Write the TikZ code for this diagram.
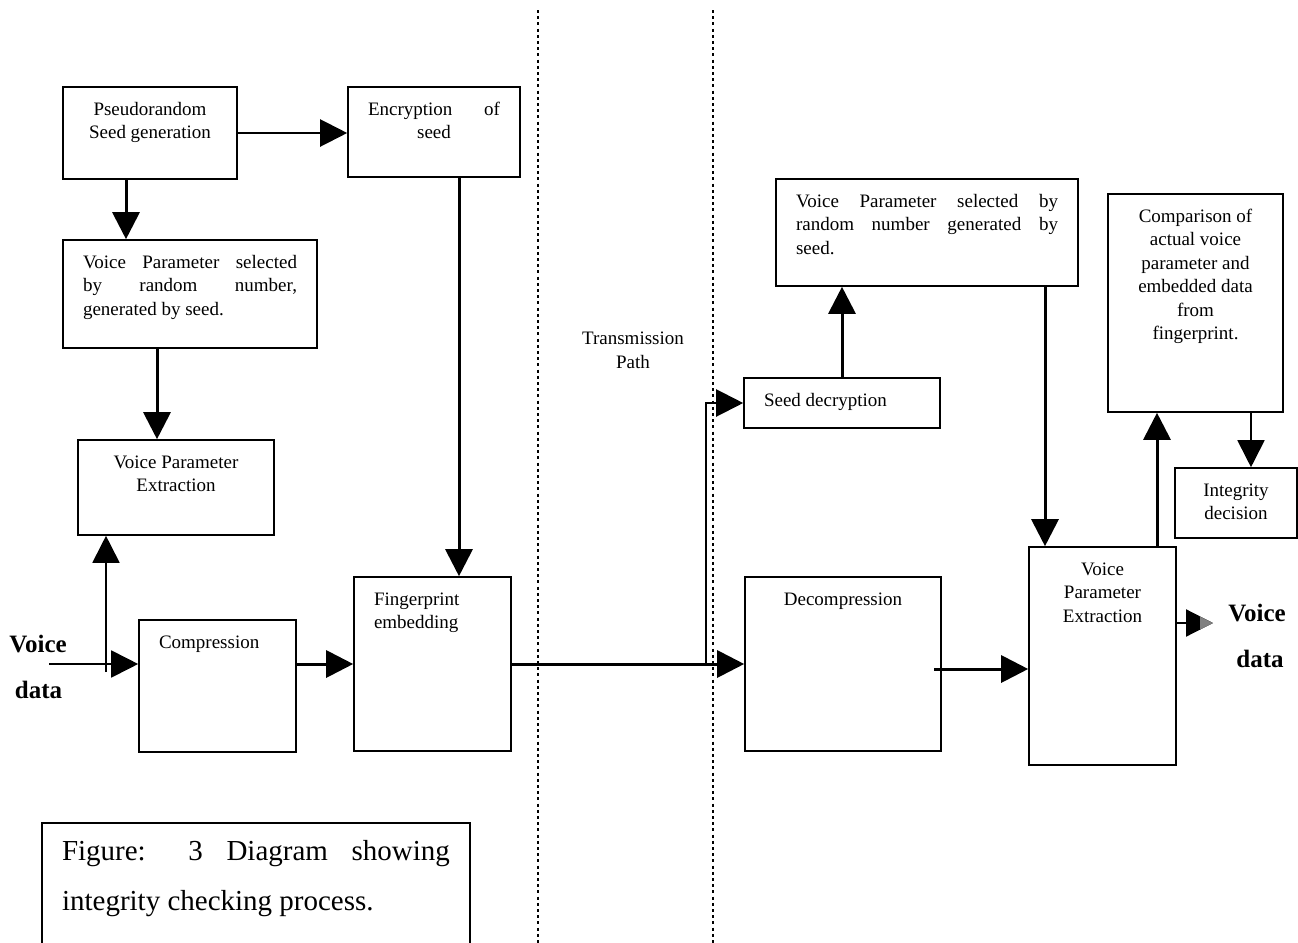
\documentclass[tikz,border=0pt]{standalone}
\usepackage{fontspec}
\setmainfont{Liberation Serif}
\usetikzlibrary{arrows.meta, positioning}

% text of a box: width, height, text (first baseline #1 below the top)
\newcommand{\blk}[4][14pt]{%
  \parbox[c][#3][t]{#2}{\vspace{\dimexpr#1-\ht\strutbox\relax}%
    \hspace*{10pt}\parbox[t]{\dimexpr#2-20pt\relax}{\strut#4}}}

\begin{document}
\begin{tikzpicture} [
	x=0.5pt, y=-0.5pt, % one unit is one pixel, y runs down
	block/.style={draw, line width=0.8pt, inner sep=0pt, font=\fontsize{9.5}{11.75}\selectfont}, % every box
	arr/.style={-{Triangle[length=13.5pt, width=13.5pt]}, line width=1.5pt}, % thick arrows
	thinarr/.style={arr, line width=0.9pt}, % thin arrows
	divider/.style={line width=1pt, dash pattern=on 1.5pt off 1.6pt}, % borders of the transmission path
	io/.style={font=\fontsize{12.5}{15}\selectfont\bfseries, inner sep=0pt, anchor=base}, % voice data labels
	]
	\path[use as bounding box, clip] (0,0) rectangle (1298,943);

	% sender
	\node[block] (seedgen) at (150,133) {\blk{87pt}{46pt}{\centering Pseudorandom\\Seed generation}};
	\node[block] (encrypt) at (434,132) {\blk{86pt}{45pt}{\centering Encryption\hfill of\\seed}};
	\node[block] (vpselA) at (190,294) {\blk{127pt}{54pt}{Voice Parameter selected\linebreak by random number,\linebreak generated by seed.}};
	\node[block] (vpextA) at (176,487.5) {\blk{98pt}{47.5pt}{\centering Voice Parameter\\Extraction}};
	\node[block] (compress) at (217.5,686) {\blk{78.5pt}{66pt}{\raggedright Compression}};
	\node[block] (finger) at (432.5,664) {\blk{78.5pt}{87pt}{\raggedright Fingerprint\\embedding}};

	% receiver
	\node[block] (seeddec) at (842,403) {\blk{98pt}{25pt}{\raggedright Seed decryption}};
	\node[block] (decomp) at (843,664) {\blk{98pt}{87pt}{\centering Decompression}};
	\node[block] (vpselB) at (927,232.5) {\blk{151pt}{53.5pt}{Voice Parameter selected by\linebreak random number generated by\linebreak seed.}};
	\node[block] (compare) at (1195.5,303) {\blk{87.5pt}{109pt}{\centering Comparison of\\actual voice\\parameter and\\embedded data\\from\\fingerprint.}};
	\node[block] (vpextB) at (1102.5,656) {\blk{73.5pt}{109pt}{\centering Voice\\Parameter\\Extraction}};
	\node[block] (integ) at (1236,503) {\blk{61pt}{35pt}{\centering Integrity\\decision}};

	\node[block, font=\fontsize{14.5}{25}\selectfont] (caption) at (256,891.5) {\blk[18.5pt]{214pt}{68.5pt}{Figure: 3 Diagram showing\linebreak integrity checking process.}};

	\node[font=\fontsize{9.5}{11.75}\selectfont, align=center, inner sep=0pt, anchor=north] (tpath) at (633,332) {Transmission\\Path};
	\draw[divider] (538,10) -- (538,943);
	\draw[divider] (713,10) -- (713,943);

	\node[io] (inA) at (38,652) {Voice};
	\node[io] (inB) at (38.5,698) {data};
	\node[io] (outA) at (1257,621) {Voice};
	\node[io] (outB) at (1260,667) {data};

	\coordinate (vin) at (49,664);
	\coordinate (tap) at (106,672);
	\coordinate (split) at (706,664);
	\coordinate (dout) at (934,669);
	\coordinate (vout) at (1213,623);
	\coordinate (s1) at ([xshift=-12pt]seedgen.south);
	\coordinate (s2) at ([xshift=-16.5pt]vpselA.south);
	\coordinate (s3) at ([xshift=12.5pt]encrypt.south);
	\coordinate (s4) at ([yshift=11pt]compress.east);
	\coordinate (s5) at ([xshift=59pt]vpselB.south);
	\coordinate (s6) at ([xshift=27.25pt]vpextB.north);
	\coordinate (s7) at ([xshift=7.5pt]integ.north);
	\coordinate (s8) at ([yshift=16.5pt]vpextB.east);

	\draw[thinarr, line width=1.1pt] (seedgen.east) -- (seedgen.east -| encrypt.west);
	\draw[arr] (s1) -- (s1 |- vpselA.north);
	\draw[arr] (s2) -- (s2 |- vpextA.north);
	\draw[arr] (s3) -- (s3 |- finger.north);
	\draw[thinarr] (vin) -- (vin -| compress.west);
	\draw[thinarr] (tap) -- (tap |- vpextA.south);
	\draw[arr] (s4) -- (s4 -| finger.west);
	\draw[arr] (finger) -- (decomp);
	\draw[thinarr, line width=1.1pt] (split) |- (seeddec.west);
	\draw[arr] (seeddec.north) -- (seeddec.north |- vpselB.south);
	\draw[arr] (s5) -- (s5 |- vpextB.north);
	\draw[arr] (dout) -- (dout -| vpextB.west);
	\draw[arr] (s6) -- (s6 |- compare.south);
	\draw[thinarr] (s7 |- compare.south) -- (s7);
	\draw[thinarr, line width=1.1pt] (s8) -- (vout);
	\fill[gray] (1200,616.5) -- (vout) -- (1200,629.5) -- cycle;
\end{tikzpicture}
\end{document}
